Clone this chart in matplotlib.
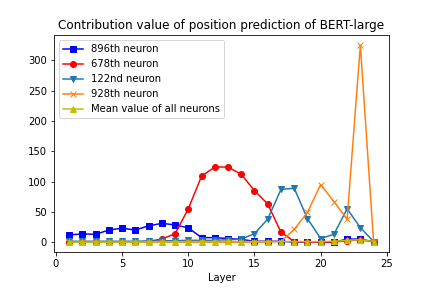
import numpy as np
import matplotlib
matplotlib.use('Agg')
import matplotlib.pyplot as plt

layers = list(range(1, 25))
n896 = [12, 13.5, 13, 20, 23, 20, 27, 31, 28.5, 23.5, 7.5, 7.5, 6, 4.5, 1.5, 1.5, 1.5, 0, 0.5, 0, 0, 5, 5, 0.5]
n678 = [0, 0, 0, 0, 0, 0, 1.5, 5, 14, 55, 109, 124, 124, 112, 85, 63, 16.5, 1, 0.5, 0, 0.5, 2, 4, 0.5]
n122 = [1.5, 1.5, 1.5, 1.5, 1.5, 1.5, 2, 2, 2.5, 3, 3, 3, 4, 5, 14, 38, 87, 89, 39, 6, 13, 55, 24, 1]
n928 = [0, 0, 0, 0, 0, 0, 0, 0, 0, 0, 0, 0, 0, 0, 0, 0, 1, 21, 49, 95, 67, 38, 325, 1]
mean = [0, 0, 0, 0, 0, 0, 0.5, 0.5, 0.5, 1, 1, 1, 1.5, 1, 1, 1, 1, 1, 1, 1, 1.5, 3, 4, 1]

fig = plt.figure(figsize=(6, 4), dpi=72)
ax = fig.add_axes([0.125, 0.125, 0.775, 0.752])
ax.plot(layers, n896, 'bs-', label='896th neuron')
ax.plot(layers, n678, 'ro-', label='678th neuron')
ax.plot(layers, n122, 'v-', color='tab:blue', label='122nd neuron')
ax.plot(layers, n928, 'x-', color='tab:orange', label='928th neuron')
ax.plot(layers, mean, 'y^-', label='Mean value of all neurons')

ax.set_title('Contribution value of position prediction of BERT-large')
ax.set_xlabel('Layer')
ax.legend(loc='upper left')

fig.savefig('out.png', dpi=72)
